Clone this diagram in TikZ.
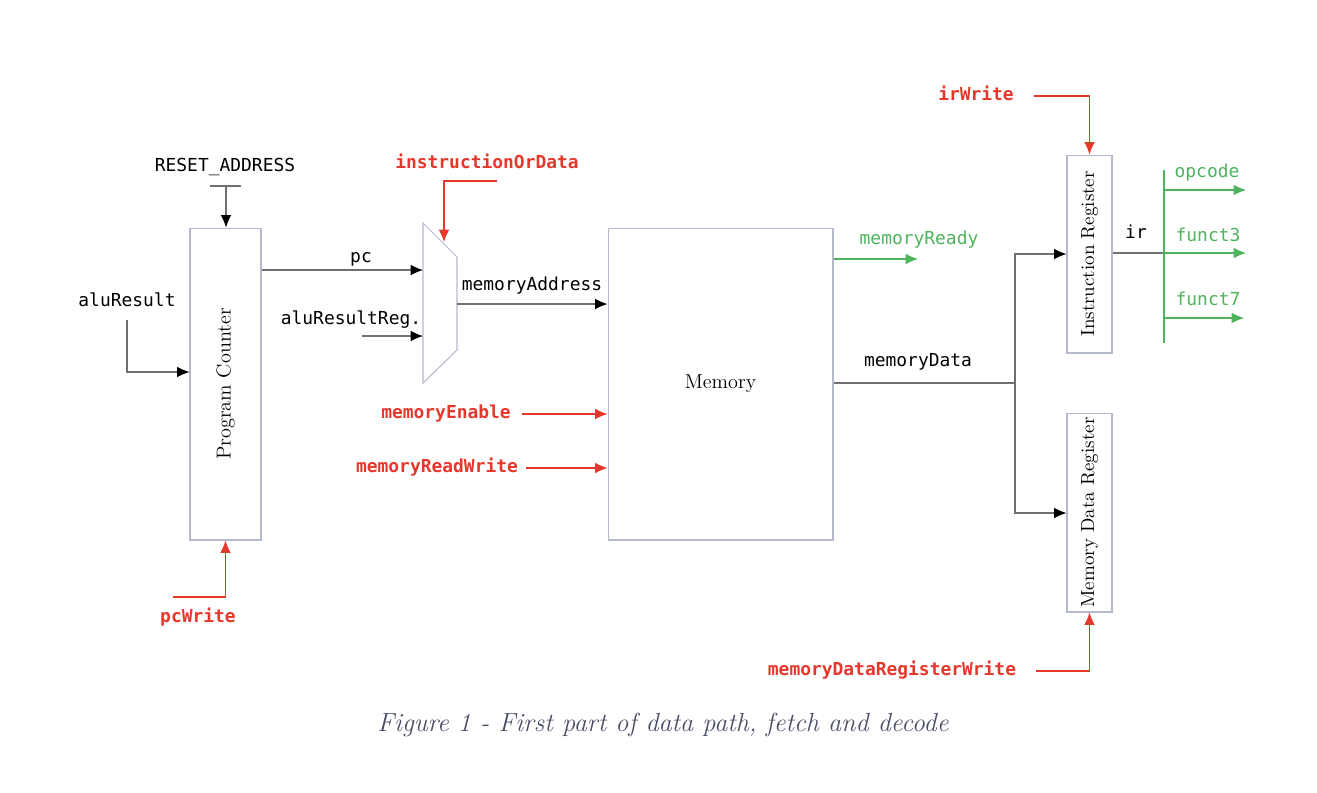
\documentclass[tikz,border=0pt]{standalone}
\usepackage{fontspec}
\setmonofont{DejaVu Sans Mono}
\usepackage{xcolor}
\usepackage{tikz}
\usetikzlibrary{arrows.meta}
\definecolor{ctrlred}{HTML}{E5372C}
\definecolor{flaggreen}{HTML}{4DB35C}
\definecolor{boxline}{HTML}{B4B8CC}
\definecolor{wiregray}{HTML}{707070}
\definecolor{capgray}{HTML}{4A4E66}
\tikzset{
reg/.style={
  draw=boxline,
  line width=0.6pt,
  inner sep=0pt,
  font=\fontsize{11.5}{14}\selectfont
},
regtext/.style={rotate=90,font=\fontsize{11.5}{14}\selectfont},
sig/.style={font=\ttfamily\fontsize{10.2}{12}\selectfont,text height=1.6ex,text depth=0.4ex},
ctrl/.style={sig,text=ctrlred,font=\ttfamily\bfseries\fontsize{10.2}{12}\selectfont},
flag/.style={sig,text=flaggreen},
wire/.style={draw=wiregray,line width=0.6pt},
arr/.style={-{Latex[length=7pt,width=6pt,color=black]}},
ctrlarr/.style={draw=ctrlred,line width=0.6pt,-{Latex[length=7pt,width=6pt]}},
flagarr/.style={draw=flaggreen,line width=0.6pt,-{Latex[length=7pt,width=6pt]}},
}

\begin{document}
\begin{tikzpicture}[x=0.02cm,y=-0.02cm]
\useasboundingbox (0,0) rectangle (1317,792);
% the blocks
\node (pc) [reg,minimum width=1.42cm,minimum height=6.24cm] at (225.5,384) {};
\node (pctext) [regtext] at (pc) {Program Counter};
\node (mem) [reg,minimum width=4.5cm,minimum height=6.24cm] at (720.5,384) {Memory};
\node (ir) [reg,minimum width=0.9cm,minimum height=3.96cm] at (1089.5,254) {};
\node (irtext) [regtext,font=\fontsize{10.8}{13}\selectfont] at (ir) {Instruction Register};
\node (mdr) [reg,minimum width=0.9cm,minimum height=3.98cm] at (1089.5,512.5) {};
\node (mdrtext) [regtext,font=\fontsize{10.8}{13}\selectfont] at (mdr) {Memory Data Register};
% the mux
\draw[draw=boxline,line width=0.6pt] (423,223) -- (457,257) -- (457,350) -- (423,383) -- cycle;
\coordinate (muxpc) at (423,270);
\coordinate (muxalu) at (423,336);
\coordinate (muxout) at (457,304);
\coordinate (muxsel) at (444,242);
% the labels
\node (rst) [sig] at (225,167) {RESET\_ADDRESS};
\node (alu) [sig] at (127,302) {aluResult};
\node (pcw) [ctrl] at (198,618) {pcWrite};
\node (pclbl) [sig] at (361,258) {pc};
\node (alureg) [sig] at (351,320) {aluResultReg.};
\node (sel) [ctrl] at (487,164) {instructionOrData};
\node (addr) [sig] at (532,286) {memoryAddress};
\node (en) [ctrl] at (446,414) {memoryEnable};
\node (rw) [ctrl] at (437,468) {memoryReadWrite};
\node (rdy) [flag] at (919,240) {memoryReady};
\node (data) [sig] at (918,362) {memoryData};
\node (irw) [ctrl] at (976,96) {irWrite};
\node (mdrw) [ctrl] at (892,671) {memoryDataRegisterWrite};
\node (irlbl) [sig] at (1136,234) {ir};
\node (opc) [flag] at (1207,173) {opcode};
\node (f3) [flag] at (1208,237) {funct3};
\node (f7) [flag] at (1208,301) {funct7};
\node (cap) [text=capgray,font=\itshape\fontsize{14.9}{17}\selectfont] at (663,725) {Figure 1 - First part of data path, fetch and decode};
% the wires
\coordinate (rstbar) at (226,186);
\draw[wire] (210,186) -- (241,186);
\draw[wire,arr] (rstbar) -- (rstbar |- pc.north);
\coordinate (alutap) at (127,320);
\draw[wire,arr] (alutap) |- (pc.west |- 0,372);
\draw[wire,arr] (pc.east |- muxpc) -- (muxpc);
\coordinate (alutail) at (362,336);
\draw[wire,arr] (alutail) -- (muxalu);
\draw[wire,arr] (muxout) -- (mem.west |- muxout);
\draw[wire] (mem.east |- 0,383) -- (1015,383) coordinate (split);
\draw[wire,arr] (split) |- (ir.west |- 0,254);
\draw[wire,arr] (split) |- (mdr.west |- 0,513);
\coordinate (bus) at (1164,253);
\draw[wire] (ir.east |- bus) -- (bus);
% the control signals
\coordinate (pcwtap) at (173,597);
\draw[ctrlarr] (pcwtap) -| (pc.south);
\coordinate (seltap) at (497,181);
\draw[ctrlarr] (seltap) -| (muxsel);
\draw[ctrlarr] ([xshift=3pt]en.east) -- (mem.west |- en.east);
\draw[ctrlarr] ([xshift=1pt]rw.east) -- (mem.west |- rw.east);
\draw[ctrlarr] ([xshift=8pt]irw.east) -| (ir.north);
\draw[ctrlarr] ([xshift=8pt]mdrw.east) -| (mdr.south);
% the status and decode outputs
\coordinate (rdyend) at (918,259);
\draw[flagarr] (mem.east |- rdyend) -- (rdyend);
\coordinate (bustop) at (1164,170);
\coordinate (busbot) at (1164,343);
\draw[draw=flaggreen,line width=0.6pt] (bustop) -- (busbot);
\coordinate (opcend) at (1246,190);
\coordinate (f3end) at (1246,253);
\coordinate (f7end) at (1244,318);
\draw[flagarr] (bus |- opcend) -- (opcend);
\draw[flagarr] (bus) -- (f3end);
\draw[flagarr] (bus |- f7end) -- (f7end);
\end{tikzpicture}
\end{document}
